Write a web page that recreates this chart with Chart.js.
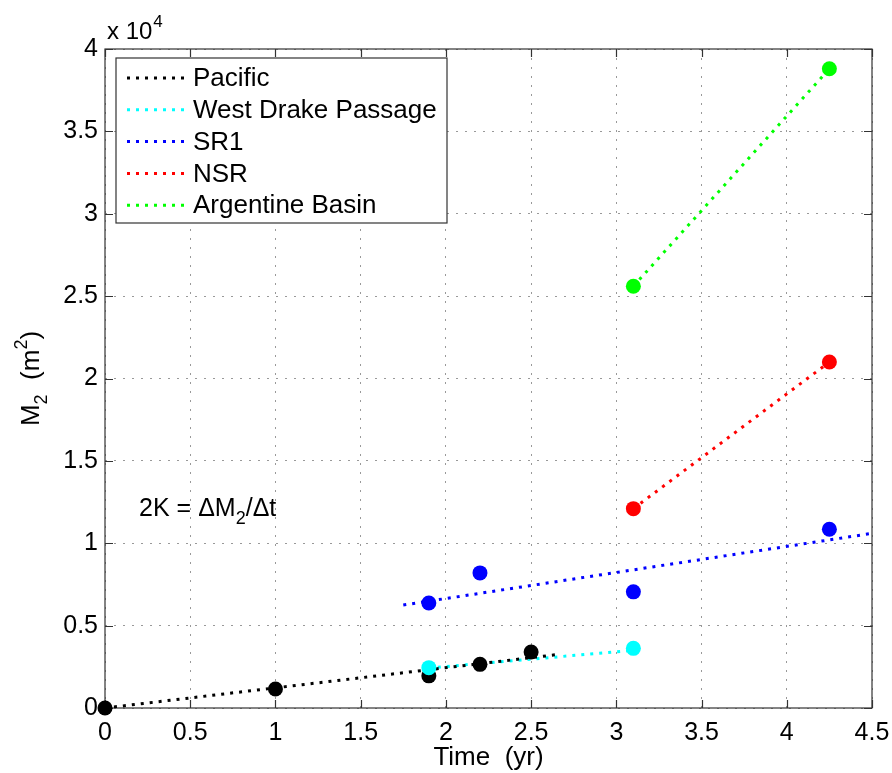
<!DOCTYPE html>
<html>
<head>
<meta charset="utf-8">
<script src="https://cdn.jsdelivr.net/npm/chart.js@4.4.1/dist/chart.umd.min.js"></script>
<style>
  body { margin: 0; background: #fff; }
  canvas { display: block; }
</style>
</head>
<body>
<canvas id="chart" width="892" height="773"></canvas>
<script>
// measured points (M2 in m^2, time in yr)
const pacificX = [0, 1, 1.9, 2.2, 2.5];
const pacificY = [0, 1150, 1950, 2650, 3400];
const drakeX = [1.9, 3.1];
const drakeY = [2450, 3620];
const sr1X = [1.9, 2.2, 3.1, 4.25];
const sr1Y = [6370, 8200, 7050, 10850];
const nsrX = [3.1, 4.25];
const nsrY = [12100, 21000];
const argX = [3.1, 4.25];
const argY = [25600, 38800];

// fitted lines (endpoints)
const pacificFitX = [0, 2.65];
const pacificFitY = [0, 3240];
const drakeFitX = [1.9, 3.1];
const drakeFitY = [2430, 3500];
const sr1FitX = [1.75, 4.5];
const sr1FitY = [6250, 10600];
const nsrFitX = [3.1, 4.25];
const nsrFitY = [12100, 21000];
const argFitX = [3.1, 4.25];
const argFitY = [25600, 38800];

const names = ["Pacific", "West Drake Passage", "SR1", "NSR", "Argentine Basin"];
const colors = ["#000000", "#00ffff", "#0000ff", "#ff0000", "#00ff00"];

const xTicks = [0, 0.5, 1, 1.5, 2, 2.5, 3, 3.5, 4, 4.5];
const yTicks = [0, 0.5, 1, 1.5, 2, 2.5, 3, 3.5, 4];
const yExp = 4;

const FONT = "'Liberation Sans', Arial, Helvetica, sans-serif";

const zip = (xs, ys) => xs.map((x, i) => ({ x, y: ys[i] }));

const pts = [[pacificX, pacificY], [drakeX, drakeY], [sr1X, sr1Y], [nsrX, nsrY], [argX, argY]];
const fits = [[pacificFitX, pacificFitY], [drakeFitX, drakeFitY], [sr1FitX, sr1FitY], [nsrFitX, nsrFitY], [argFitX, argFitY]];

const datasets = [];
fits.forEach((f, i) => {
  datasets.push({
    label: names[i],
    data: zip(f[0], f[1]),
    showLine: true,
    borderColor: colors[i],
    borderWidth: 3,
    borderDash: [3, 6],
    borderCapStyle: "butt",
    pointRadius: 0,
    order: 2
  });
});
pts.forEach((p, i) => {
  datasets.push({
    label: names[i] + " data",
    data: zip(p[0], p[1]),
    showLine: false,
    backgroundColor: colors[i],
    borderColor: colors[i],
    pointRadius: 7.5,
    pointBorderWidth: 0,
    clip: false,
    order: i === 0 ? 1.5 : 1
  });
});

const boxPlugin = {
  id: "box",
  beforeDatasetsDraw(chart) {
    const { ctx, chartArea: a, scales } = chart;
    ctx.save();
    ctx.strokeStyle = "#333";
    ctx.lineWidth = 1.2;
    ctx.strokeRect(a.left, a.top, a.right - a.left, a.bottom - a.top);
    ctx.beginPath();
    xTicks.forEach(t => {
      const px = Math.round(scales.x.getPixelForValue(t)) + 0.5;
      ctx.moveTo(px, a.bottom); ctx.lineTo(px, a.bottom - 8);
      ctx.moveTo(px, a.top); ctx.lineTo(px, a.top + 8);
    });
    yTicks.forEach(t => {
      const py = Math.round(scales.y.getPixelForValue(t * Math.pow(10, yExp))) + 0.5;
      ctx.moveTo(a.left, py); ctx.lineTo(a.left + 8, py);
      ctx.moveTo(a.right, py); ctx.lineTo(a.right - 8, py);
    });
    ctx.stroke();
    ctx.restore();
  },
  afterDraw(chart) {
    const { ctx, chartArea: a, scales } = chart;
    ctx.save();
    ctx.fillStyle = "#000";
    ctx.textBaseline = "alphabetic";

    // exponent label
    ctx.font = "24px " + FONT;
    ctx.textAlign = "left";
    ctx.fillText("x 10", a.left + 2, a.top - 10);
    const w10 = ctx.measureText("x 10").width;
    ctx.font = "17px " + FONT;
    ctx.fillText(String(yExp), a.left + 2 + w10 + 1, a.top - 22);

    // x title
    ctx.font = "26px " + FONT;
    ctx.textAlign = "center";
    ctx.fillText("Time  (yr)", (a.left + a.right) / 2, 765);

    // y title, rotated
    ctx.save();
    ctx.translate(39, (a.top + a.bottom) / 2);
    ctx.rotate(-Math.PI / 2);
    const parts = [["M", 26, 0], ["2", 18, 8], ["  (m", 26, 0], ["2", 18, -12], [")", 26, 0]];
    let total = 0;
    parts.forEach(p => { ctx.font = p[1] + "px " + FONT; total += ctx.measureText(p[0]).width; });
    let cx = -total / 2;
    ctx.textAlign = "left";
    parts.forEach(p => {
      ctx.font = p[1] + "px " + FONT;
      ctx.fillText(p[0], cx, p[2]);
      cx += ctx.measureText(p[0]).width;
    });
    ctx.restore();

    // annotation
    const ax = scales.x.getPixelForValue(0.2);
    const ay = scales.y.getPixelForValue(12200) + 9;
    const ann = [["2K = \u0394M", 25, 0], ["2", 18, 8], ["/\u0394t", 25, 0]];
    let ux = ax;
    ctx.textAlign = "left";
    ann.forEach(p => {
      ctx.font = p[1] + "px " + FONT;
      ctx.fillText(p[0], ux, ay + p[2]);
      ux += ctx.measureText(p[0]).width;
    });

    // legend
    const lx = 116, ly = 58, lw = 331, lh = 165;
    ctx.fillStyle = "#fff";
    ctx.fillRect(lx, ly, lw, lh);
    ctx.strokeStyle = "#333";
    ctx.lineWidth = 1.2;
    ctx.strokeRect(lx, ly, lw, lh);
    ctx.font = "26px " + FONT;
    ctx.textBaseline = "middle";
    names.forEach((n, i) => {
      const yy = 78 + i * 31.8;
      ctx.strokeStyle = colors[i];
      ctx.lineWidth = 3;
      ctx.setLineDash([3, 6]);
      ctx.beginPath();
      ctx.moveTo(127, yy); ctx.lineTo(186, yy);
      ctx.stroke();
      ctx.setLineDash([]);
      ctx.fillStyle = "#000";
      ctx.fillText(n, 193, yy + 1);
    });
    ctx.restore();
  }
};

new Chart(document.getElementById("chart"), {
  type: "scatter",
  data: { datasets },
  plugins: [boxPlugin],
  options: {
    responsive: false,
    animation: false,
    layout: { padding: { top: 49, right: 20, left: 0, bottom: 0 } },
    plugins: { legend: { display: false }, tooltip: { enabled: false } },
    scales: {
      x: {
        type: "linear",
        min: 0, max: 4.5,
        afterBuildTicks: s => { s.ticks = xTicks.map(v => ({ value: v })); },
        afterFit: s => { s.height = 65; s.paddingRight = 0; s.paddingLeft = 0; },
        ticks: {
          color: "#000",
          font: { family: FONT, size: 25 },
          padding: 10,
          maxRotation: 0,
          autoSkip: false,
          callback: v => String(v)
        },
        grid: { color: "#999", lineWidth: 1, drawTicks: false },
        border: { display: false, dash: [2, 7] }
      },
      y: {
        type: "linear",
        min: 0, max: 40000,
        afterBuildTicks: s => { s.ticks = yTicks.map(v => ({ value: v * Math.pow(10, yExp) })); },
        afterFit: s => { s.width = 105; s.paddingTop = 0; s.paddingBottom = 0; },
        ticks: {
          color: "#000",
          font: { family: FONT, size: 25 },
          padding: 7,
          autoSkip: false,
          callback: v => String(Math.round(v / Math.pow(10, yExp) * 10) / 10)
        },
        grid: { color: "#999", lineWidth: 1, drawTicks: false },
        border: { display: false, dash: [2, 7] }
      }
    }
  }
});
</script>
</body>
</html>
